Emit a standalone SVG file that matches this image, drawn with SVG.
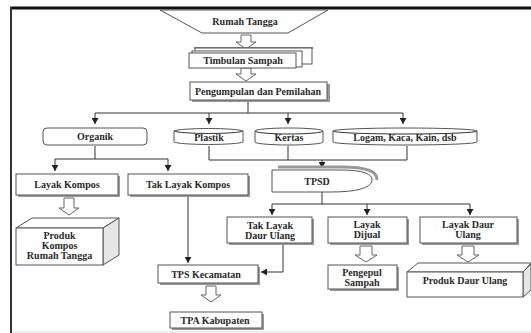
<svg xmlns="http://www.w3.org/2000/svg" width="531" height="333" viewBox="0 0 531 333">
<style>
  .t{font-family:'Liberation Serif','DejaVu Serif',serif;font-size:10px;font-weight:700;fill:#2a2a2a;text-anchor:middle;dominant-baseline:central}
  .box{fill:#fff;stroke:#555;stroke-width:1}
  .sh{fill:#9a9a9a}
  .ln{fill:none;stroke:#333;stroke-width:1}
  .ba{fill:#fff;stroke:#666;stroke-width:1}
  .side{fill:#e6e6e6;stroke:#555;stroke-width:1}
</style>
<defs>
  <marker id="ad" markerWidth="7" markerHeight="6" refX="3.5" refY="6" orient="0" markerUnits="userSpaceOnUse" viewBox="0 0 7 6">
    <path d="M0,0 L7,0 L3.5,6 Z" fill="#222"/>
  </marker>
  <marker id="al" markerWidth="6" markerHeight="7" refX="0" refY="3.5" orient="0" markerUnits="userSpaceOnUse" viewBox="0 0 6 7">
    <path d="M6,0 L6,7 L0,3.5 Z" fill="#222"/>
  </marker>
</defs>
<rect width="531" height="333" fill="#fff"/>
<line x1="10" y1="8" x2="531" y2="8" stroke="#111" stroke-width="3"/>
<line x1="11" y1="7" x2="11" y2="333" stroke="#333" stroke-width="2"/>
<line x1="12" y1="332" x2="531" y2="332" stroke="#ddd" stroke-width="1"/>

<g id="connectors">
  <path class="ln" d="M248,101 V113 M95,113 H403"/>
  <path class="ln" d="M95,113 V124" marker-end="url(#ad)"/>
  <path class="ln" d="M209,113 V124" marker-end="url(#ad)"/>
  <path class="ln" d="M288,113 V124" marker-end="url(#ad)"/>
  <path class="ln" d="M403,113 V124" marker-end="url(#ad)"/>
  <path class="ln" d="M209,146 V160 H407 V146 M288,146 V160"/>
  <path class="ln" d="M322,160 V168" marker-end="url(#ad)"/>
  <path class="ln" d="M95,146 V159 M55,159 H168"/>
  <path class="ln" d="M55,159 V171" marker-end="url(#ad)"/>
  <path class="ln" d="M168,159 V171" marker-end="url(#ad)"/>
  <path class="ln" d="M188,196 V263" marker-end="url(#ad)"/>
  <path class="ln" d="M322,192 V204 M272,204 H470"/>
  <path class="ln" d="M272,204 V215" marker-end="url(#ad)"/>
  <path class="ln" d="M367,204 V215" marker-end="url(#ad)"/>
  <path class="ln" d="M470,204 V215" marker-end="url(#ad)"/>
  <path class="ln" d="M283,244 V272 H261" marker-end="url(#al)"/>
  <path class="ba" d="M241,35 H251 V42 H256 L246,49 L236,42 H241 Z"/>
  <path class="ba" d="M241,68 H251 V74 H256 L246,81 L236,74 H241 Z"/>
  <path class="ba" d="M64,198 H74 V208 H79 L69,215 L59,208 H64 Z"/>
  <path class="ba" d="M206,286 H216 V295 H221 L211,302 L201,295 H206 Z"/>
  <path class="ba" d="M360,246 H372 V255 H377 L366,262 L355,255 H360 Z"/>
  <path class="ba" d="M462,246 H474 V255 H479 L468,262 L457,255 H462 Z"/>
</g>

<g id="rumah-tangga">
  <path class="box" d="M160,10 H328 L288,33 H202 Z"/>
  <text class="t" x="245" y="21">Rumah Tangga</text>
</g>
<g id="timbulan-sampah">
  <path d="M194,48 H313" stroke="#888" stroke-width="2"/>
  <rect class="box" x="195" y="48" width="117" height="16"/>
  <rect class="box" x="192" y="51" width="110" height="16"/>
  <rect class="box" x="189" y="53" width="107" height="15"/>
  <text class="t" x="243" y="60.5">Timbulan Sampah</text>
</g>
<g id="pengumpulan">
  <rect class="sh" x="192" y="84" width="138" height="18"/>
  <rect class="box" x="190" y="82" width="137" height="18"/>
  <text class="t" x="258" y="91">Pengumpulan dan Pemilahan</text>
</g>
<g id="organik">
  <rect class="box" x="43" y="128" width="104" height="17" rx="4"/>
  <text class="t" x="95" y="136.5">Organik</text>
</g>
<g id="plastik">
  <path class="box" d="M174,131 A35,3 0 0 1 243,131 V142 A35,3 0 0 1 174,142 Z"/>
  <path class="ln" stroke="#555" d="M174,131 A35,3 0 0 0 243,131"/>
  <text class="t" x="209" y="137.5">Plastik</text>
</g>
<g id="kertas">
  <path class="box" d="M255,131 A34,3 0 0 1 323,131 V142 A34,3 0 0 1 255,142 Z"/>
  <path class="ln" stroke="#555" d="M255,131 A34,3 0 0 0 323,131"/>
  <text class="t" x="289" y="137.5">Kertas</text>
</g>
<g id="logam">
  <path class="box" d="M333,131 A72,3 0 0 1 477,131 V142 A72,3 0 0 1 333,142 Z"/>
  <path class="ln" stroke="#555" d="M333,131 A72,3 0 0 0 477,131"/>
  <text class="t" x="405" y="137.5">Logam, Kaca, Kain, dsb</text>
</g>
<g id="tpsd">
  <path d="M278,167 H342 Q378,167 377,180" fill="none" stroke="#999" stroke-width="3"/>
  <path class="box" d="M272,170 H340 Q374,170 372,181 Q369,192 330,192 H272 Z"/>
  <text class="t" x="317" y="181.5">TPSD</text>
</g>
<g id="layak-kompos">
  <rect class="sh" x="18" y="176" width="102" height="21"/>
  <rect class="box" x="16" y="174" width="102" height="21"/>
  <text class="t" x="67" y="184.5">Layak Kompos</text>
</g>
<g id="tak-layak-kompos">
  <rect class="sh" x="130" y="176" width="120" height="21"/>
  <rect class="box" x="128" y="174" width="120" height="21"/>
  <text class="t" x="188" y="184.5">Tak Layak Kompos</text>
</g>
<g id="produk-kompos">
  <path class="box" d="M16,228 L32,218 H119 L103,228 Z"/>
  <path class="side" d="M103,228 L119,218 V255 L103,265 Z"/>
  <rect class="box" x="16" y="228" width="87" height="37"/>
  <text class="t" x="59.5" y="235">Produk</text>
  <text class="t" x="59.5" y="245">Kompos</text>
  <text class="t" x="59.5" y="255">Rumah Tangga</text>
</g>
<g id="tak-layak-daur-ulang">
  <rect class="sh" x="229" y="219" width="85" height="26"/>
  <rect class="box" x="227" y="217" width="85" height="26"/>
  <text class="t" x="270" y="225.5">Tak Layak</text>
  <text class="t" x="270" y="235.5">Daur Ulang</text>
</g>
<g id="layak-dijual">
  <rect class="sh" x="330" y="219" width="79" height="26"/>
  <rect class="box" x="328" y="217" width="79" height="26"/>
  <text class="t" x="367" y="224.5">Layak</text>
  <text class="t" x="367" y="234.5">Dijual</text>
</g>
<g id="layak-daur-ulang">
  <rect class="sh" x="422" y="219" width="97" height="26"/>
  <rect class="box" x="420" y="217" width="97" height="26"/>
  <text class="t" x="468" y="224.5">Layak Daur</text>
  <text class="t" x="468" y="234.5">Ulang</text>
</g>
<g id="pengepul">
  <rect class="sh" x="330" y="267" width="69" height="24"/>
  <rect class="box" x="328" y="265" width="69" height="24"/>
  <text class="t" x="362" y="272">Pengepul</text>
  <text class="t" x="362" y="282">Sampah</text>
</g>
<g id="produk-daur-ulang">
  <path class="box" d="M407,272 L418,263 H531 L523,272 Z"/>
  <path class="side" d="M523,272 L531,264 V290 L523,297 Z"/>
  <rect class="box" x="407" y="272" width="116" height="25"/>
  <text class="t" x="465" y="280">Produk Daur Ulang</text>
</g>
<g id="tps-kecamatan">
  <rect class="sh" x="160" y="267" width="100" height="18"/>
  <rect class="box" x="158" y="265" width="100" height="18"/>
  <text class="t" x="206" y="274">TPS Kecamatan</text>
</g>
<g id="tpa-kabupaten">
  <rect class="sh" x="172" y="314" width="92" height="16"/>
  <rect class="box" x="170" y="312" width="92" height="16"/>
  <text class="t" x="215" y="320">TPA Kabupaten</text>
</g>
</svg>
